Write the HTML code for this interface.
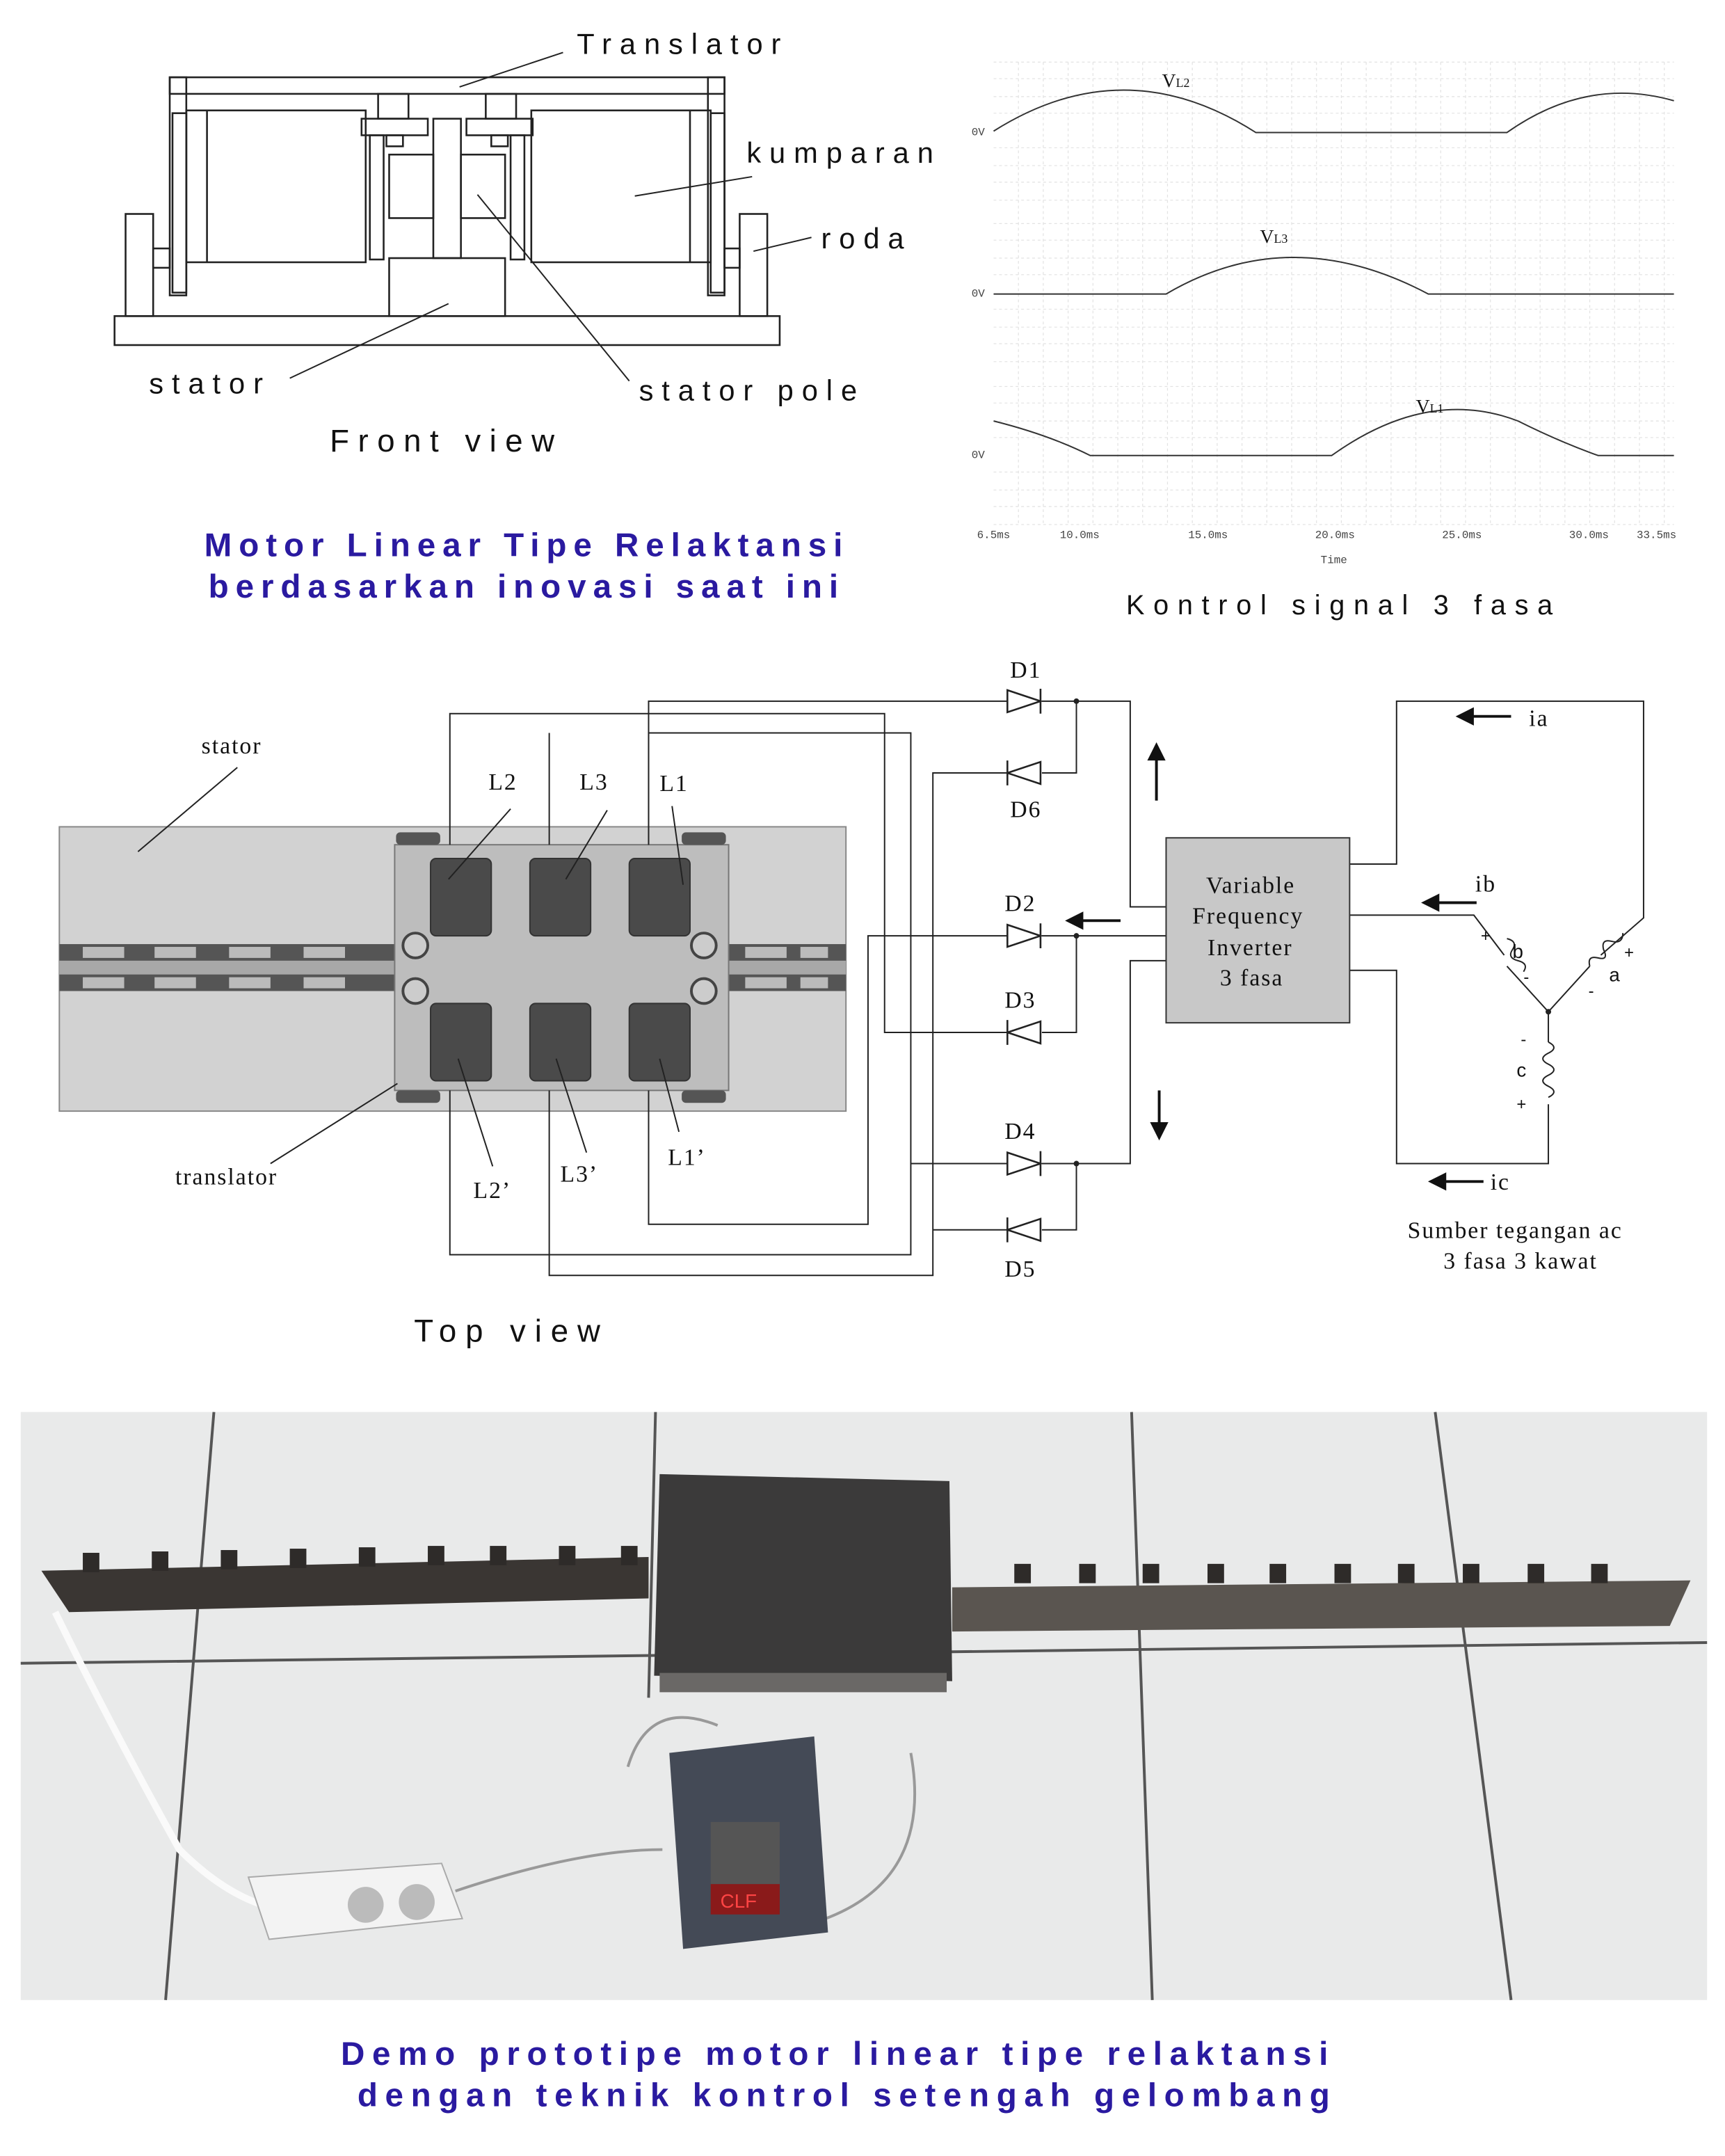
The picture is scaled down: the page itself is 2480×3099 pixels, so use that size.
<!DOCTYPE html>
<html><head><meta charset="utf-8"><style>
html,body{margin:0;padding:0;background:#fff}
svg{display:block}
.t{font-family:"Liberation Sans",sans-serif}
.s{font-family:"Liberation Serif",serif}
.m{font-family:"Liberation Mono",monospace}
</style></head><body>
<svg width="2480" height="3099" viewBox="0 0 1250 1562" preserveAspectRatio="none" xmlns="http://www.w3.org/2000/svg">
<rect width="1250" height="1562" fill="#fff"/>
<!-- FRONT VIEW -->
<g fill="none" stroke="#222" stroke-width="1.3">
<rect x="83" y="229" width="482" height="21"/>
<rect x="282" y="187" width="84" height="42"/>
<rect x="91" y="155" width="20" height="74"/>
<rect x="111" y="180" width="12" height="14"/>
<rect x="536" y="155" width="20" height="74"/>
<rect x="525" y="180" width="11" height="14"/>
<rect x="123" y="56" width="12" height="158"/>
<rect x="513" y="56" width="12" height="158"/>
<rect x="123" y="56" width="402" height="12"/>
<rect x="135" y="80" width="130" height="110"/>
<line x1="150" y1="80" x2="150" y2="190"/>
<rect x="385" y="80" width="130" height="110"/>
<line x1="500" y1="80" x2="500" y2="190"/>
<rect x="125" y="82" width="10" height="130"/>
<rect x="515" y="82" width="10" height="130"/>
<rect x="262" y="86" width="48" height="12"/>
<rect x="338" y="86" width="48" height="12"/>
<rect x="274" y="68" width="22" height="18"/>
<rect x="352" y="68" width="22" height="18"/>
<rect x="280" y="98" width="12" height="8"/>
<rect x="356" y="98" width="12" height="8"/>
<rect x="314" y="86" width="20" height="101"/>
<rect x="282" y="112" width="32" height="46"/>
<rect x="334" y="112" width="32" height="46"/>
<rect x="268" y="98" width="10" height="90"/>
<rect x="370" y="98" width="10" height="90"/>
</g>
<g stroke="#222" stroke-width="1">
<line x1="333" y1="63" x2="408" y2="38"/>
<line x1="460" y1="142" x2="545" y2="128"/>
<line x1="546" y1="182" x2="588" y2="172"/>
<line x1="210" y1="274" x2="325" y2="220"/>
<line x1="346" y1="141" x2="456" y2="276"/>
</g>
<g class="t" fill="#111" font-size="21" letter-spacing="6">
<text x="418" y="39">Translator</text>
<text x="541" y="118">kumparan</text>
<text x="595" y="180">roda</text>
<text x="108" y="285">stator</text>
<text x="463" y="290">stator pole</text>
<text x="239" y="327" font-size="23" letter-spacing="6.3">Front view</text>
</g>
<g class="t" fill="#2a1aa0" font-size="24" font-weight="bold" letter-spacing="5">
<text x="148" y="403">Motor Linear Tipe Relaktansi</text>
<text x="151" y="433">berdasarkan inovasi saat ini</text>
</g>
<!-- SIGNAL PLOTS -->
<g stroke="#e2e2e2" stroke-width="0.6" stroke-dasharray="2,2">
<path d="M720 45H1213M720 57H1213M720 70H1213M720 82H1213M720 107H1213M720 120H1213M720 132H1213M720 145H1213"/>
<path d="M720 162H1213M720 174H1213M720 187H1213M720 199H1213M720 224H1213M720 237H1213M720 249H1213M720 262H1213"/>
<path d="M720 280H1213M720 292H1213M720 305H1213M720 317H1213M720 342H1213M720 355H1213M720 367H1213M720 380H1213"/>
<path d="M738 45V380M756 45V380M774 45V380M792 45V380M810 45V380M828 45V380M846 45V380M864 45V380M882 45V380M900 45V380M918 45V380M936 45V380M954 45V380M972 45V380M990 45V380M1008 45V380M1026 45V380M1044 45V380M1062 45V380M1080 45V380M1098 45V380M1116 45V380M1134 45V380M1152 45V380M1170 45V380M1188 45V380M1206 45V380"/>
</g>
<g fill="none" stroke="#333" stroke-width="1">
<path d="M720 95 Q815 35 910 96 L1092 96 Q1150 55 1213 73"/>
<path d="M720 213 L845 213 Q935 160 1035 213 L1213 213"/>
<path d="M720 305 Q760 315 790 330 L965 330 Q1035 280 1100 305 Q1130 320 1158 330 L1213 330"/>
</g>
<g class="m" font-size="8" fill="#444">
<text x="704" y="98">0V</text><text x="704" y="215">0V</text><text x="704" y="332">0V</text>
<text x="708" y="390">6.5ms</text><text x="768" y="390">10.0ms</text><text x="861" y="390">15.0ms</text><text x="953" y="390">20.0ms</text><text x="1045" y="390">25.0ms</text><text x="1137" y="390">30.0ms</text><text x="1186" y="390">33.5ms</text>
<text x="957" y="408">Time</text>
</g>
<g class="s" font-size="14" fill="#111">
<text x="842" y="63">V<tspan font-size="9">L2</tspan></text>
<text x="913" y="176">V<tspan font-size="9">L3</tspan></text>
<text x="1026" y="299">V<tspan font-size="9">L1</tspan></text>
</g>
<text class="t" x="816" y="445" font-size="20" letter-spacing="6.4" fill="#111">Kontrol signal 3 fasa</text>
<!-- TOP VIEW -->
<rect x="43" y="599" width="570" height="206" fill="#d2d2d2" stroke="#888"/>
<rect x="43" y="684" width="570" height="34" fill="#a8a8a8"/>
<g fill="#555">
<rect x="43" y="684" width="570" height="12"/><rect x="43" y="706" width="570" height="12"/>
</g>
<g fill="#bbb">
<rect x="60" y="686" width="30" height="8"/><rect x="112" y="686" width="30" height="8"/><rect x="166" y="686" width="30" height="8"/><rect x="220" y="686" width="30" height="8"/><rect x="540" y="686" width="30" height="8"/><rect x="580" y="686" width="20" height="8"/>
<rect x="60" y="708" width="30" height="8"/><rect x="112" y="708" width="30" height="8"/><rect x="166" y="708" width="30" height="8"/><rect x="220" y="708" width="30" height="8"/><rect x="540" y="708" width="30" height="8"/><rect x="580" y="708" width="20" height="8"/>
</g>
<rect x="286" y="612" width="242" height="178" fill="#bdbdbd" stroke="#777"/>
<g fill="#555"><rect x="287" y="603" width="32" height="9" rx="3"/><rect x="494" y="603" width="32" height="9" rx="3"/><rect x="287" y="790" width="32" height="9" rx="3"/><rect x="494" y="790" width="32" height="9" rx="3"/></g>
<g fill="#4a4a4a" stroke="#333">
<rect x="312" y="622" width="44" height="56" rx="4"/><rect x="384" y="622" width="44" height="56" rx="4"/><rect x="456" y="622" width="44" height="56" rx="4"/>
<rect x="312" y="727" width="44" height="56" rx="4"/><rect x="384" y="727" width="44" height="56" rx="4"/><rect x="456" y="727" width="44" height="56" rx="4"/>
</g>
<g fill="#ccc" stroke="#444" stroke-width="2"><circle cx="301" cy="685" r="9"/><circle cx="510" cy="685" r="9"/><circle cx="301" cy="718" r="9"/><circle cx="510" cy="718" r="9"/></g>
<g stroke="#222" stroke-width="1" fill="none">
<line x1="100" y1="617" x2="172" y2="556"/>
<line x1="196" y1="843" x2="288" y2="785"/>
<line x1="325" y1="637" x2="370" y2="586"/><line x1="410" y1="637" x2="440" y2="587"/><line x1="495" y1="641" x2="487" y2="584"/>
<line x1="332" y1="767" x2="357" y2="845"/><line x1="403" y1="767" x2="425" y2="835"/><line x1="478" y1="767" x2="492" y2="820"/>
<!-- wires -->
<path d="M326 612 V517 H641 V748 H730"/>
<path d="M326 790 V909 H660 V531 H470 V612"/>
<path d="M470 790 V887 H629 V678 H730"/>
<path d="M398 612 V531 H398"/>
<path d="M398 790 V924 H676 V560 H730"/>
<path d="M676 891 H730"/>
<path d="M470 612 V508 H730"/>
<path d="M660 843 H730"/>
<path d="M755 508 H780 V560 H755"/><path d="M780 508 H819 V657 H845"/>
<path d="M755 678 H780 V748 H755"/><path d="M780 678 H845"/>
<path d="M755 843 H780 V891 H755"/><path d="M780 843 H819 V696 H845"/>
<path d="M978 626 H1012 V508 H1191 V665 L1160 692"/>
<path d="M978 663 H1068 L1090 692"/>
<path d="M978 703 H1012 V843 H1122 V800"/>
<path d="M1092 700 L1122 733 L1152 700"/><path d="M1122 733 V755"/>
<path d="M1092 680 q8 2 4 8 q-4 6 4 8 q8 2 4 8 M1152 700 q-2-8 6-6 q8 2 4-6 q-2-8 6-6 q8 2 8-6"/>
<path d="M1122 755 q8 4 0 8 q-8 4 0 8 q8 4 0 8 q-8 4 0 8 q8 4 0 8"/>
</g>
<rect x="845" y="607" width="133" height="134" fill="#c8c8c8" stroke="#333"/>
<g fill="none" stroke="#222" stroke-width="1.3">
<path d="M730 500 L754 508 L730 516 Z M754 499 V517"/>
<path d="M730 552 L754 560 L730 568 Z M754 551 V569" transform="rotate(180 742 560)"/>
<path d="M730 670 L754 678 L730 686 Z M754 669 V687"/>
<path d="M730 740 L754 748 L730 756 Z M754 739 V757" transform="rotate(180 742 748)"/>
<path d="M730 835 L754 843 L730 851 Z M754 834 V852"/>
<path d="M730 883 L754 891 L730 899 Z M754 882 V900" transform="rotate(180 742 891)"/>
</g>
<g fill="#222"><circle cx="780" cy="508" r="2"/><circle cx="780" cy="678" r="2"/><circle cx="780" cy="843" r="2"/><circle cx="1122" cy="733" r="2"/></g>
<g stroke="#111" stroke-width="2" fill="#111">
<line x1="838" y1="580" x2="838" y2="548"/><path d="M833 550 L838 540 L843 550Z"/>
<line x1="840" y1="790" x2="840" y2="816"/><path d="M835 814 L840 824 L845 814Z"/>
<line x1="812" y1="667" x2="782" y2="667"/><path d="M784 662 L774 667 L784 672Z"/>
<line x1="1095" y1="519" x2="1065" y2="519"/><path d="M1067 514 L1057 519 L1067 524Z"/>
<line x1="1070" y1="654" x2="1040" y2="654"/><path d="M1042 649 L1032 654 L1042 659Z"/>
<line x1="1075" y1="856" x2="1045" y2="856"/><path d="M1047 851 L1037 856 L1047 861Z"/>
</g>
<g class="s" font-size="17" fill="#111" letter-spacing="1">
<text x="146" y="546">stator</text>
<text x="127" y="858">translator</text>
<text x="354" y="572">L2</text><text x="420" y="572">L3</text><text x="478" y="573">L1</text>
<text x="343" y="868">L2’</text><text x="406" y="856">L3’</text><text x="484" y="844">L1’</text>
<text x="732" y="491">D1</text><text x="732" y="592">D6</text><text x="728" y="660">D2</text><text x="728" y="730">D3</text><text x="728" y="825">D4</text><text x="728" y="925">D5</text>
<text x="1108" y="526">ia</text><text x="1069" y="646">ib</text><text x="1080" y="862">ic</text>
<text x="874" y="647">Variable</text><text x="864" y="669">Frequency</text><text x="875" y="692">Inverter</text><text x="884" y="714">3 fasa</text>
<text x="1020" y="897">Sumber tegangan ac</text><text x="1046" y="919">3 fasa 3 kawat</text>
</g>
<g class="t" font-size="14" fill="#111">
<text x="1096" y="694">b</text><text x="1166" y="711">a</text><text x="1099" y="780">c</text>
<text x="1073" y="682" font-size="12">+</text><text x="1104" y="712" font-size="12">-</text><text x="1177" y="694" font-size="12">+</text><text x="1151" y="722" font-size="12">-</text><text x="1102" y="757" font-size="12">-</text><text x="1099" y="804" font-size="12">+</text>
</g>
<text class="t" x="300" y="972" font-size="23" letter-spacing="6.5" fill="#111">Top view</text>
<!-- PHOTO -->
<rect x="15" y="1023" width="1222" height="426" fill="#e9eaea"/>
<g stroke="#555" stroke-width="2" fill="none">
<path d="M155 1023 L120 1449"/><path d="M475 1023 L470 1230"/><path d="M820 1023 L835 1449"/><path d="M1040 1023 L1095 1449"/>
<path d="M15 1205 L1237 1190"/>
</g>
<path d="M30 1138 L470 1128 L470 1158 L50 1168 Z" fill="#3a3633"/>
<path d="M690 1150 L1225 1145 L1210 1178 L690 1182 Z" fill="#5a5550"/>
<g fill="#2e2b29">
<rect x="60" y="1125" width="12" height="14"/><rect x="110" y="1124" width="12" height="14"/><rect x="160" y="1123" width="12" height="14"/><rect x="210" y="1122" width="12" height="14"/><rect x="260" y="1121" width="12" height="14"/><rect x="310" y="1120" width="12" height="14"/><rect x="355" y="1120" width="12" height="14"/><rect x="405" y="1120" width="12" height="14"/><rect x="450" y="1120" width="12" height="14"/>
<rect x="735" y="1133" width="12" height="14"/><rect x="782" y="1133" width="12" height="14"/><rect x="828" y="1133" width="12" height="14"/><rect x="875" y="1133" width="12" height="14"/><rect x="920" y="1133" width="12" height="14"/><rect x="967" y="1133" width="12" height="14"/><rect x="1013" y="1133" width="12" height="14"/><rect x="1060" y="1133" width="12" height="14"/><rect x="1107" y="1133" width="12" height="14"/><rect x="1153" y="1133" width="12" height="14"/>
</g>
<path d="M478 1068 L688 1073 L690 1218 L474 1214 Z" fill="#3b3a3a"/>
<rect x="478" y="1212" width="208" height="14" fill="#6a6866"/>
<path d="M40 1168 Q80 1250 130 1340 Q160 1370 190 1380" stroke="#fafafa" stroke-width="5" fill="none"/>
<path d="M455 1280 Q470 1230 520 1250 M660 1270 Q680 1380 560 1400 M330 1370 Q420 1340 480 1340" stroke="#999" stroke-width="2" fill="none"/>
<path d="M180 1360 L320 1350 L335 1390 L195 1405 Z" fill="#f3f3f3" stroke="#aaa"/>
<circle cx="265" cy="1380" r="13" fill="#bbb"/><circle cx="302" cy="1378" r="13" fill="#bbb"/>
<path d="M485 1270 L590 1258 L600 1400 L495 1412 Z" fill="#444a56"/>
<rect x="515" y="1320" width="50" height="60" fill="#555"/>
<rect x="515" y="1365" width="50" height="22" fill="#8a1a1a"/>
<text class="t" x="522" y="1382" font-size="14" fill="#f44">CLF</text>
<g class="t" fill="#2a1aa0" font-size="24" font-weight="bold" letter-spacing="5.35">
<text x="247" y="1496">Demo prototipe motor linear tipe relaktansi</text>
<text x="259" y="1526">dengan teknik kontrol setengah gelombang</text>
</g>
</svg>
</body></html>
